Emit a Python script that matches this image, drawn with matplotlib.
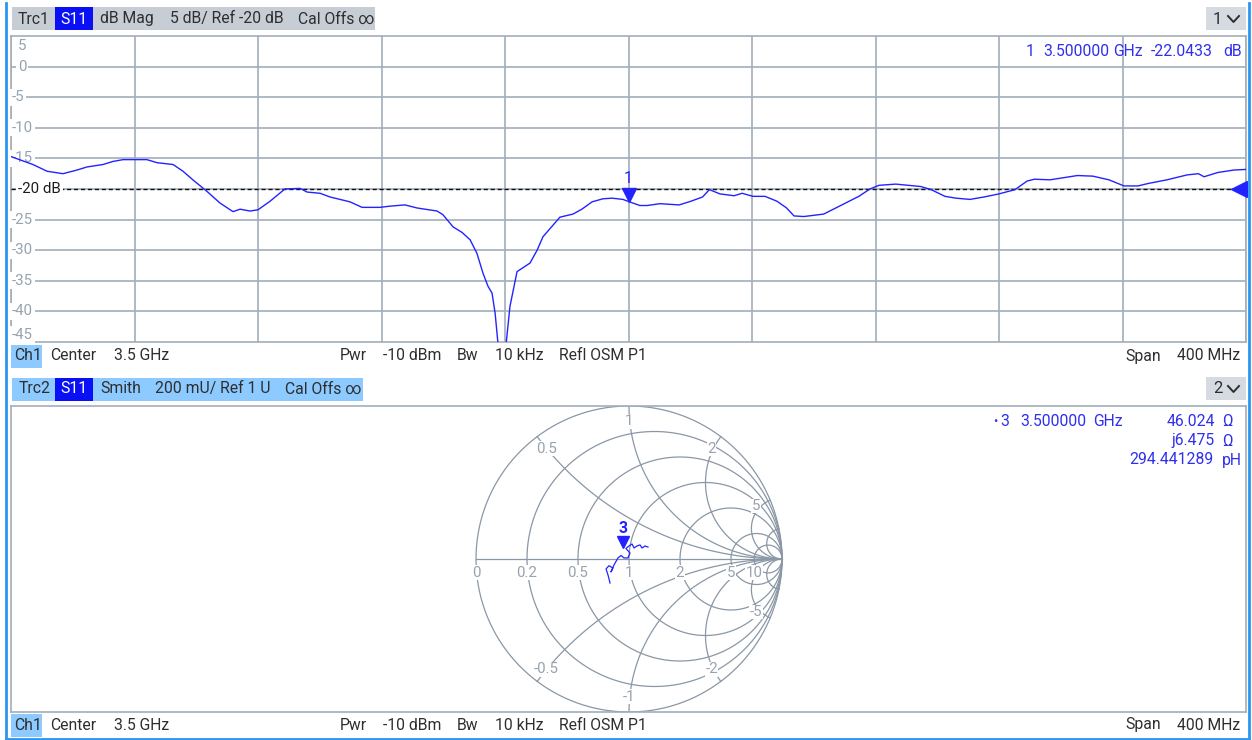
import numpy as np
import matplotlib
matplotlib.use("Agg")
import matplotlib.pyplot as plt
from matplotlib.patches import Rectangle
from matplotlib.lines import Line2D
from matplotlib.transforms import offset_copy

plt.rcParams['font.family'] = ['Roboto', 'DejaVu Sans']

# ---------------------------------------------------------------------------
# Trace 1 : S11 dB magnitude
# ---------------------------------------------------------------------------
freq_ghz = [3.3000, 3.3071, 3.3117, 3.3168, 3.3214, 3.3246, 3.3298, 3.3330,
            3.3363, 3.3440, 3.3473, 3.3525, 3.3557, 3.3589, 3.3635, 3.3677,
            3.3719, 3.3742, 3.3774, 3.3800, 3.3839, 3.3887, 3.3936, 3.3959,
            3.4001, 3.4033, 3.4098, 3.4137, 3.4195, 3.4228, 3.4276, 3.4315,
            3.4380, 3.4399, 3.4432, 3.4461, 3.4487, 3.4509, 3.4529, 3.4545,
            3.4558, 3.4568, 3.4590, 3.4616, 3.4639, 3.4681, 3.4704, 3.4723,
            3.4778, 3.4820, 3.4849, 3.4882, 3.4917, 3.4947, 3.4982, 3.5000,
            3.5037, 3.5060, 3.5102, 3.5164, 3.5202, 3.5240, 3.5262, 3.5296,
            3.5342, 3.5368, 3.5403, 3.5442, 3.5481, 3.5512, 3.5536, 3.5568,
            3.5632, 3.5695, 3.5746, 3.5782, 3.5811, 3.5866, 3.5947, 3.5980,
            3.6025, 3.6061, 3.6106, 3.6152, 3.6200, 3.6252, 3.6291, 3.6315,
            3.6365, 3.6454, 3.6504, 3.6556, 3.6605, 3.6650, 3.6683, 3.6744,
            3.6809, 3.6846, 3.6864, 3.6909, 3.6961, 3.7000]
s11_db = [-14.7, -16.0, -17.1, -17.5, -16.9, -16.4, -16.0, -15.5,
          -15.2, -15.2, -15.7, -16.0, -17.1, -18.5, -20.4, -22.3,
          -23.7, -23.3, -23.6, -23.4, -22.0, -20.0, -19.9, -20.5,
          -20.7, -21.3, -22.1, -23.0, -23.0, -22.8, -22.6, -23.1,
          -23.6, -24.2, -26.2, -27.1, -28.3, -30.5, -33.8, -35.9,
          -37.0, -40.3, -52.0, -39.2, -33.5, -32.1, -30.0, -27.8,
          -24.6, -24.1, -23.3, -22.1, -21.6, -21.5, -21.7, -22.0433,
          -22.7, -22.7, -22.4, -22.6, -22.0, -21.3, -20.1, -20.8,
          -21.1, -20.7, -21.2, -21.2, -22.0, -23.1, -24.4, -24.5,
          -24.1, -22.5, -21.2, -20.0, -19.4, -19.2, -19.6, -20.1,
          -21.2, -21.5, -21.7, -21.3, -20.8, -20.1, -18.7, -18.4,
          -18.5, -17.8, -17.9, -18.5, -19.5, -19.5, -19.1, -18.5,
          -17.7, -17.5, -18.0, -17.3, -16.9, -16.8]

db_labels = [5, 0, -5, -10, -15, -20, -25, -30, -35, -40, -45]
ref_db = -20
marker1_freq = 3.5
marker1_db = -22.0433

# ---------------------------------------------------------------------------
# Trace 2 : S11 Smith chart (reflection coefficient)
# ---------------------------------------------------------------------------
gamma_re = [-0.124, -0.137, -0.150, -0.131, -0.105, -0.118, -0.098, -0.072,
            -0.052, -0.033, -0.007, 0.007, -0.020, 0.000, 0.020, 0.033,
            0.052, 0.072, 0.085, 0.105, 0.124]
gamma_im = [-0.157, -0.105, -0.065, -0.044, -0.059, -0.085, -0.039, 0.007,
            0.023, 0.007, 0.007, 0.039, 0.069, 0.085, 0.098, 0.072,
            0.085, 0.092, 0.072, 0.085, 0.078]
z0 = 50.0
marker3_r = 46.024
marker3_x = 6.475
marker3_l = "294.441289"
r_circles = [0.2, 0.5, 1, 2, 5, 10]
x_arcs = [0.5, 1, 2, 5, 10]
r_labels = [0, 0.2, 0.5, 1, 2, 5, 10]
x_labels = [0.5, 1, 2, 5, -0.5, -1, -2, -5]

# ---------------------------------------------------------------------------
W, H = 1252, 740
BLUE = '#2323ff'
TXT_BLUE = '#2f2fee'
GRID = '#a2aebb'
LBL = '#97a3ae'
DARK = '#2e2e2e'
HDR_GRAY = '#c6cdd5'
HDR_BLUE = '#8ccaff'
S11_BLUE = '#0a10f5'
FS = 11.3


def fx(x):
    return x / W


def fy(y):
    return 1 - y / H


def box(fig, x0, y0, x1, y1, color):
    fig.add_artist(Rectangle((fx(x0), fy(y1)), (x1 - x0) / W, (y1 - y0) / H,
                             transform=fig.transFigure, facecolor=color,
                             edgecolor='none', zorder=0))


def ftext(fig, x, y, s, ha='left', color=DARK, size=FS, **kw):
    fig.text(fx(x), fy(y), s, ha=ha, va='center', color=color,
             fontsize=size, **kw)


def chevron(fig, x, y):
    xs = [x, x + 5.5, x + 11]
    ys = [y - 3, y + 3, y - 3]
    fig.add_artist(Line2D([fx(v) for v in xs], [fy(v) for v in ys],
                          transform=fig.transFigure, color=DARK, lw=1.4))


fig = plt.figure(figsize=(W / 100, H / 100), dpi=100)
fig.patch.set_facecolor('white')

# ---------------------------------------------------------------------------
# Upper diagram: dB magnitude
# ---------------------------------------------------------------------------
L, R = 11, 1246
ax1 = fig.add_axes([fx(L), fy(342), (R - L) / W, (342 - 36) / H])
ax1.set_xlim(3.3, 3.7)
ax1.set_ylim(-45, 5)
ax1.set_xticks(np.linspace(3.3, 3.7, 11))
ax1.set_yticks(db_labels[1:-1])
ax1.grid(True, color=GRID, lw=1.2)
ax1.tick_params(length=0, labelleft=False, labelbottom=False)
for sp in ax1.spines.values():
    sp.set_color(GRID)
    sp.set_linewidth(1.2)

ax1.axhline(ref_db, color='#111111', lw=1.0, ls=(0, (3, 2)), zorder=3)
ax1.plot(freq_ghz, s11_db, color=BLUE, lw=1.0, zorder=7)

ytr = ax1.get_yaxis_transform()
for v in db_labels:
    if v == ref_db:
        continue
    dy = 0
    if v == db_labels[0]:
        dy = -10
    elif v == db_labels[-1]:
        dy = 7
    xpos = (18 - L) / (R - L) if v >= 0 else (12 - L) / (R - L)
    tr = offset_copy(ytr, fig=fig, x=0, y=dy, units='dots')
    ax1.text(xpos, v, str(v), transform=tr, ha='left', va='center',
             color=LBL, fontsize=10.8, zorder=5,
             bbox=dict(facecolor='white', edgecolor='none', pad=1.2))
ax1.text((18 - L) / (R - L), ref_db, f"{ref_db} dB", transform=ytr,
         ha='left', va='center', color='#1c1c1c', fontsize=10.8, zorder=5,
         bbox=dict(facecolor='white', edgecolor='none', pad=1.5))

# marker 1
mtr = offset_copy(ax1.transData, fig=fig, x=0, y=7, units='dots')
ax1.plot([marker1_freq], [marker1_db], marker='v', ms=10, color=BLUE,
         transform=mtr, zorder=8, clip_on=False)
ltr = offset_copy(ax1.transData, fig=fig, x=0, y=23, units='dots')
ax1.text(marker1_freq, marker1_db, "1", transform=ltr, ha='center',
         va='center', color=BLUE, fontsize=11.3, zorder=8)
# reference level arrow at right edge
rtr = offset_copy(ax1.get_yaxis_transform(), fig=fig, x=-7, y=0, units='dots')
ax1.plot([1.0], [ref_db], marker='<', ms=11, color=BLUE, transform=rtr,
         zorder=8, clip_on=False)

# ---------------------------------------------------------------------------
# Lower diagram: Smith chart
# ---------------------------------------------------------------------------
CX, RAD = 629, 153
ax2 = fig.add_axes([fx(L), fy(712), (R - L) / W, (712 - 406) / H])
ax2.set_xlim(-(CX - L) / RAD, (R - CX) / RAD)
ax2.set_ylim(-1, 1)
ax2.set_xticks([])
ax2.set_yticks([])
for sp in ax2.spines.values():
    sp.set_color(GRID)
    sp.set_linewidth(1.2)

SG = '#8a97a5'
t = np.linspace(0, 2 * np.pi, 600)
ax2.plot(np.cos(t), np.sin(t), color=SG, lw=0.9)
ax2.plot([-1, 1], [0, 0], color=SG, lw=0.9)
for r in r_circles:
    c, rr = r / (1 + r), 1 / (1 + r)
    ax2.plot(c + rr * np.cos(t), rr * np.sin(t), color=SG, lw=0.9)
rr_par = np.concatenate([np.linspace(0, 2, 300), np.geomspace(2, 5000, 300)])
for xv in x_arcs:
    for s in (1, -1):
        g = (rr_par + 1j * s * xv - 1) / (rr_par + 1j * s * xv + 1)
        ax2.plot(g.real, g.imag, color=SG, lw=0.9)

for r in r_labels:
    ax2.text((r - 1) / (r + 1), -0.09, f"{r:g}", ha='center', va='center',
             color=LBL, fontsize=10.8,
             bbox=dict(facecolor='white', edgecolor='none', pad=0.3))
for xv in x_labels:
    gx, gy = (xv * xv - 1) / (xv * xv + 1), 2 * xv / (xv * xv + 1)
    ax2.text(0.9 * gx, 0.9 * gy, f"{xv:g}", ha='center', va='center',
             color=LBL, fontsize=10.8,
             bbox=dict(facecolor='white', edgecolor='none', pad=0.3))

ax2.plot(gamma_re, gamma_im, color=BLUE, lw=0.9, zorder=4)
zm = complex(marker3_r, marker3_x) / z0
gm = (zm - 1) / (zm + 1)
mtr2 = offset_copy(ax2.transData, fig=fig, x=0, y=6, units='dots')
ax2.plot([gm.real], [gm.imag], marker='v', ms=9, color=BLUE, transform=mtr2,
         zorder=6)
ltr2 = offset_copy(ax2.transData, fig=fig, x=0, y=20, units='dots')
ax2.text(gm.real, gm.imag, "3", transform=ltr2, ha='center', va='center',
         color=BLUE, fontsize=11.3, fontweight='bold', zorder=6)

# ---------------------------------------------------------------------------
# Header / footer bars
# ---------------------------------------------------------------------------
box(fig, 12, 7, 375, 30, HDR_GRAY)
box(fig, 55, 7, 93, 30, S11_BLUE)
ftext(fig, 18, 19, "Trc1")
ftext(fig, 74, 19, "S11", ha='center', color='white')
ftext(fig, 100, 19, "dB Mag")
ftext(fig, 170, 19, "5 dB/ Ref -20 dB")
ftext(fig, 298, 19, "Cal Offs \u221e")
box(fig, 1206, 7, 1246, 30, '#d5dbe1')
ftext(fig, 1213, 19, "1", size=12)
chevron(fig, 1228, 19)

ftext(fig, 1026, 51, "1", color=TXT_BLUE)
ftext(fig, 1043, 51, f"{marker1_freq:.6f}", color=TXT_BLUE)
ftext(fig, 1113, 51, "GHz", color=TXT_BLUE)
ftext(fig, 1213, 51, f"{marker1_db:.4f}", ha='right', color=TXT_BLUE)
ftext(fig, 1223, 51, "dB", color=TXT_BLUE)

for yrow in (356, 725):
    box(fig, 11, yrow - 11, 42, yrow + 12, HDR_BLUE)
    ftext(fig, 14, yrow, "Ch1")
    ftext(fig, 50, yrow, "Center")
    ftext(fig, 114, yrow, "3.5 GHz")
    ftext(fig, 340, yrow, "Pwr")
    ftext(fig, 383, yrow, "-10 dBm")
    ftext(fig, 457, yrow, "Bw")
    ftext(fig, 495, yrow, "10 kHz")
    ftext(fig, 559, yrow, "Refl OSM P1")
    ftext(fig, 1125, yrow, "Span")
    ftext(fig, 1240, yrow, "400 MHz", ha='right')

box(fig, 12, 378, 363, 401, HDR_BLUE)
box(fig, 55, 378, 93, 401, S11_BLUE)
ftext(fig, 19, 389, "Trc2")
ftext(fig, 74, 389, "S11", ha='center', color='white')
ftext(fig, 100, 389, "Smith")
ftext(fig, 155, 389, "200 mU/ Ref 1 U")
ftext(fig, 285, 389, "Cal Offs \u221e")
box(fig, 1206, 377, 1246, 400, '#d5dbe1')
ftext(fig, 1213, 389, "2", size=12)
chevron(fig, 1228, 389)

ftext(fig, 993, 422, "\u2022", color=TXT_BLUE, size=9)
ftext(fig, 1000, 422, "3", color=TXT_BLUE)
ftext(fig, 1020, 422, "3.500000", color=TXT_BLUE)
ftext(fig, 1093, 422, "GHz", color=TXT_BLUE)
ftext(fig, 1215, 422, f"{marker3_r:.3f}", ha='right', color=TXT_BLUE)
ftext(fig, 1222, 422, "\u03a9", color=TXT_BLUE)
ftext(fig, 1215, 441, f"j{marker3_x:.3f}", ha='right', color=TXT_BLUE)
ftext(fig, 1222, 441, "\u03a9", color=TXT_BLUE)
ftext(fig, 1213, 460, marker3_l, ha='right', color=TXT_BLUE)
ftext(fig, 1222, 460, "pH", color=TXT_BLUE)

# outer window frame (left, right, bottom)
FRAME = '#2b95f0'
fig.add_artist(Line2D([fx(6), fx(6)], [fy(3), fy(740)],
                      transform=fig.transFigure, color=FRAME, lw=2))
fig.add_artist(Line2D([fx(1249), fx(1249)], [fy(3), fy(740)],
                      transform=fig.transFigure, color=FRAME, lw=2))
fig.add_artist(Line2D([fx(6), fx(1249)], [fy(738.5), fy(738.5)],
                      transform=fig.transFigure, color=FRAME, lw=2))

fig.savefig("out.png", dpi=100)
